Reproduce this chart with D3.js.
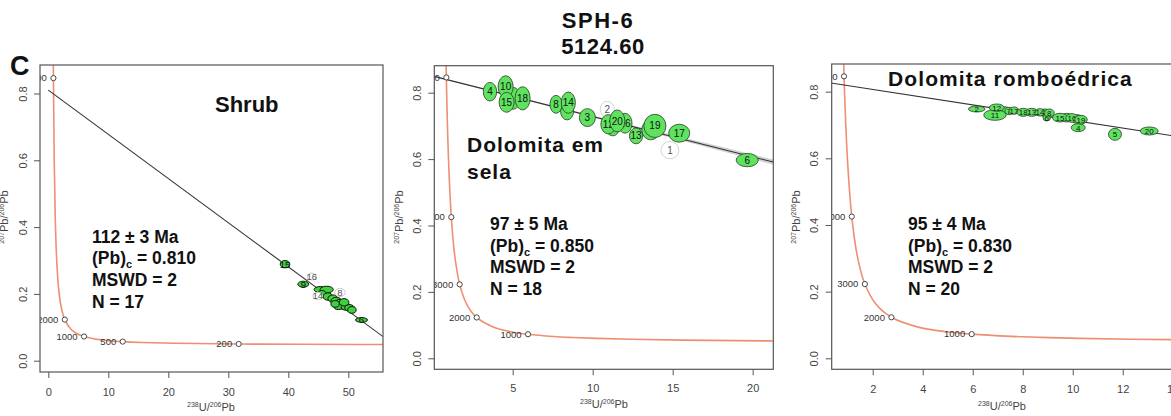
<!DOCTYPE html>
<html><head><meta charset="utf-8">
<script src="https://cdn.jsdelivr.net/npm/d3@7"></script>
<style>body{margin:0;background:#fff} svg{display:block;font-family:"Liberation Sans",Arial,sans-serif}</style>
</head><body><svg id="c" width="1171" height="416"></svg>
<script>
// ---- Concordia reference points (age in Ma, 238U/206Pb, 207Pb/206Pb) ----
const concAge = [5500,5000,4500,4000,3500,3000,2500,2000,1500,1200,1000,800,700,600,500,400,300,200,150,100];
const concX = [0.742,0.853,0.990,1.163,1.387,1.687,2.111,2.749,3.817,4.888,5.959,7.568,8.718,10.252,12.40,15.621,20.992,31.73,42.477,63.97];
const concY = [1.2075,0.846,0.597,0.4252,0.3059,0.2227,0.1643,0.1230,0.0936,0.0802,0.0725,0.0658,0.0628,0.0599,0.0572,0.0547,0.0524,0.0501,0.0491,0.0480];

// ---- Panel 1 : Shrub ----
const shrubMarkers = [5000,2000,1000,500,200];
const shrubXTicks = [0,10,20,30,40,50];
const shrubLabel = ["","","","","","6","","8","9","","","","","14","15","16","","","",""];
const shrubX  = [45.3,46.4,45.6,46.6,47.4,52.2,48.0,48.6,42.5,48.6,49.0,48.3,49.6,44.9,39.45,43.9,50.2,50.6,49.3,47.8];
const shrubY  = [0.213,0.213,0.200,0.192,0.186,0.122,0.178,0.204,0.229,0.172,0.166,0.164,0.162,0.194,0.289,0.252,0.158,0.152,0.175,0.170];
const shrubEX = [1.0,1.1,0.7,0.8,0.8,1.0,0.9,0.9,0.9,0.9,0.8,0.7,0.8,0.8,0.8,0.7,0.8,0.7,0.8,0.7];
const shrubEY = [0.009,0.010,0.010,0.011,0.011,0.007,0.012,0.012,0.009,0.012,0.012,0.011,0.011,0.011,0.011,0.010,0.010,0.010,0.011,0.010];
const shrubRejected = [8,14,16];
const shrubLineX = [0,55.8];
const shrubLineY = [0.810,0.072];

// ---- Panel 2 : Dolomita em sela ----
const selaMarkers = [5000,4000,3000,2000,1000];
const selaXTicks = [5,10,15,20];
const selaLabel = ["1","2","3","4","","6","","8","","10","","12","13","14","15","16","17","18","19","20"];
const selaX  = [14.83,10.91,9.67,3.58,5.04,19.66,8.40,7.71,13.63,4.56,11.25,10.98,12.71,8.48,4.62,12.02,15.41,5.62,13.89,11.54];
const selaY  = [0.627,0.750,0.725,0.803,0.783,0.597,0.745,0.765,0.688,0.818,0.698,0.705,0.670,0.770,0.771,0.708,0.678,0.783,0.700,0.715];
const selaEX = [0.56,0.44,0.50,0.42,0.44,0.69,0.41,0.38,0.56,0.47,0.44,0.47,0.41,0.44,0.47,0.44,0.66,0.47,0.69,0.47];
const selaEY = [0.026,0.024,0.027,0.028,0.033,0.020,0.027,0.027,0.030,0.033,0.028,0.029,0.024,0.032,0.030,0.030,0.027,0.035,0.035,0.033];
const selaRejected = [1,2];
const selaLineX = [0,21.3];
const selaLineY = [0.850,0.591];
const selaBandX = [0,5,10,15,21.3];
const selaBandW = [0.002,0.002,0.003,0.005,0.008];

// ---- Panel 3 : Dolomita romboédrica ----
const rombMarkers = [5000,4000,3000,2000,1000];
const rombXTicks = [2,4,6,8,10,12,14];
const rombLabel = ["","2","3","4","5","6","7","8","9","10","11","12","13","14","15","16","17","18","19","20"];
const rombX  = [7.30,6.16,8.89,10.22,11.69,8.96,7.45,9.06,9.76,10.17,6.89,6.96,8.36,8.69,9.49,9.97,7.65,8.02,10.33,13.06];
const rombY  = [0.745,0.748,0.737,0.692,0.672,0.722,0.742,0.736,0.722,0.718,0.730,0.752,0.738,0.738,0.722,0.721,0.743,0.738,0.716,0.682];
const rombEX = [0.15,0.33,0.20,0.28,0.26,0.15,0.16,0.20,0.25,0.25,0.45,0.30,0.25,0.20,0.30,0.25,0.20,0.25,0.25,0.36];
const rombEY = [0.010,0.009,0.011,0.012,0.018,0.010,0.011,0.012,0.013,0.013,0.016,0.011,0.012,0.011,0.013,0.013,0.011,0.012,0.013,0.012];
const rombRejected = [];
const rombLineX = [0,14.3];
const rombLineY = [0.830,0.664];

const yTicks = [0,0.2,0.4,0.6,0.8];
const statAge = ["112 \u00b1 3 Ma","97 \u00b1 5 Ma","95 \u00b1 4 Ma"];
const statPbc = ["0.810","0.850","0.830"];
const statMswd = ["2","2","2"];
const statN = ["17","18","20"];

const svg = d3.select("#c");
svg.append("rect").attr("width",1171).attr("height",416).attr("fill","#fff");

const panels = [
  {id:"p1", left:40, right:383, top:65, bottom:372, xDom:[-1.383,55.78], yDom:[-0.0338,0.8853],
   xTicks:shrubXTicks, markers:shrubMarkers, labels:shrubLabel, px:shrubX, py:shrubY, ex:shrubEX, ey:shrubEY,
   rej:shrubRejected, lx:shrubLineX, ly:shrubLineY, lblSize:9.5, xPad:10, yTitleX:8, xTitleX:211, xTitleY:411,
   statX:92, statY:242.7, k:0, dark:true},
  {id:"p2", left:434.3, right:773.3, top:65.7, bottom:369.3, xDom:[0.1,21.29], yDom:[-0.0331,0.8813],
   xTicks:selaXTicks, markers:selaMarkers, labels:selaLabel, px:selaX, py:selaY, ex:selaEX, ey:selaEY,
   rej:selaRejected, lx:selaLineX, ly:selaLineY, band:true, lblSize:10, xPad:9, yTitleX:403, xTitleX:604, xTitleY:408,
   statX:490, statY:230, k:1},
  {id:"p3", left:831.7, right:1185, top:64, bottom:369.3, xDom:[0.36,14.49], yDom:[-0.033,0.883],
   xTicks:rombXTicks, markers:rombMarkers, labels:rombLabel, px:rombX, py:rombY, ex:rombEX, ey:rombEY,
   rej:rombRejected, lx:rombLineX, ly:rombLineY, lblSize:8, xPad:9.5, yTitleX:800, xTitleX:1002, xTitleY:410,
   statX:908, statY:230, k:2}
];

const conc = concAge.map((a,i)=>({age:a, x:concX[i], y:concY[i]}));

panels.forEach(p=>{
  const xs = d3.scaleLinear().domain(p.xDom).range([p.left,p.right]);
  const ys = d3.scaleLinear().domain(p.yDom).range([p.bottom,p.top]);
  const g = svg.append("g");
  g.append("clipPath").attr("id","clip-"+p.id).append("rect")
    .attr("x",p.left).attr("y",p.top).attr("width",p.right-p.left).attr("height",p.bottom-p.top);
  const plot = g.append("g").attr("clip-path",`url(#clip-${p.id})`);

  if (p.band) {
    const slope = (p.ly[1]-p.ly[0])/(p.lx[1]-p.lx[0]);
    const bd = selaBandX.map((x,i)=>({x, y:p.ly[0]+slope*(x-p.lx[0]), w:selaBandW[i]}));
    plot.append("path").datum(bd)
      .attr("d", d3.area().x(d=>xs(d.x)).y0(d=>ys(d.y-d.w)).y1(d=>ys(d.y+d.w)).curve(d3.curveMonotoneX))
      .attr("fill","#bdbdbd").attr("opacity",0.7);
  }
  plot.append("path").datum(conc)
    .attr("d", d3.line().x(d=>xs(d.x)).y(d=>ys(d.y)).curve(d3.curveCatmullRom.alpha(0.5)))
    .attr("fill","none").attr("stroke","#ee8e72").attr("stroke-width",1.6);
  plot.append("line").attr("x1",xs(p.lx[0])).attr("y1",ys(p.ly[0])).attr("x2",xs(p.lx[1])).attr("y2",ys(p.ly[1]))
    .attr("stroke","#333").attr("stroke-width",1.1);
  const mk = conc.filter(d=>p.markers.includes(d.age));
  plot.selectAll(".mk").data(mk).enter().append("circle")
    .attr("cx",d=>xs(d.x)).attr("cy",d=>ys(d.y)).attr("r",2.6)
    .attr("fill","#fff").attr("stroke","#333").attr("stroke-width",0.9);
  plot.selectAll(".mkl").data(mk).enter().append("text")
    .attr("x",d=>xs(d.x)-6.5).attr("y",d=>ys(d.y)).attr("dy","0.35em")
    .attr("text-anchor","end").attr("font-size",9.5).attr("fill","#333").text(d=>d.age);
  p.px.forEach((x,i)=>{
    const id = i+1, y = p.py[i], rej = p.rej.includes(id);
    const cx = xs(x), cy = ys(y);
    plot.append("ellipse").attr("cx",cx).attr("cy",cy)
      .attr("rx", xs(x+p.ex[i])-cx).attr("ry", cy-ys(y+p.ey[i]))
      .attr("fill", rej ? "#fff" : (p.dark ? "#3fcf3f" : "#5ee35e"))
      .attr("stroke", rej ? "#c8c8c8" : (p.dark ? "#0d1a0d" : "#2c3a2c")).attr("stroke-width", p.dark ? 1 : 0.8);
    if (p.labels[i] !== "")
      plot.append("text").attr("x",cx).attr("y",cy).attr("dy","0.36em").attr("text-anchor","middle")
        .attr("font-size",p.lblSize).attr("fill", rej ? "#555" : "#111").text(p.labels[i]);
  });

  g.append("rect").attr("x",p.left).attr("y",p.top).attr("width",p.right-p.left).attr("height",p.bottom-p.top)
    .attr("fill","none").attr("stroke","#555").attr("stroke-width",1.2);

  const xa = g.append("g").attr("transform",`translate(0,${p.bottom})`)
    .call(d3.axisBottom(xs).tickValues(p.xTicks).tickSize(6).tickPadding(p.xPad).tickFormat(d3.format("d")));
  xa.select(".domain").remove();
  xa.selectAll("line").attr("stroke","#555");
  xa.selectAll("text").attr("font-size",11).attr("fill","#444").attr("font-family",null);
  const ya = g.append("g").attr("transform",`translate(${p.left},0)`)
    .call(d3.axisLeft(ys).tickValues(yTicks).tickSize(6).tickFormat(d3.format(".1f")));
  ya.select(".domain").remove();
  ya.selectAll("line").attr("stroke","#555");
  ya.selectAll("text").attr("x",null).attr("dy",null).attr("text-anchor","middle")
    .attr("dominant-baseline","central").attr("transform","translate(-17.5,0) rotate(-90)")
    .attr("font-size",11).attr("fill","#444").attr("font-family",null);

  const yt = g.append("text").attr("transform",`translate(${p.yTitleX},217) rotate(-90)`)
    .attr("text-anchor","middle").attr("font-size",11).attr("fill","#444");
  yt.append("tspan").attr("font-size",7).attr("dy",-4).text("207");
  yt.append("tspan").attr("dy",4).text("Pb/");
  yt.append("tspan").attr("font-size",7).attr("dy",-4).text("206");
  yt.append("tspan").attr("dy",4).text("Pb");
  const xt = g.append("text").attr("x",p.xTitleX).attr("y",p.xTitleY)
    .attr("text-anchor","middle").attr("font-size",11).attr("fill","#444");
  xt.append("tspan").attr("font-size",7).attr("dy",-4).text("238");
  xt.append("tspan").attr("dy",4).text("U/");
  xt.append("tspan").attr("font-size",7).attr("dy",-4).text("206");
  xt.append("tspan").attr("dy",4).text("Pb");

  const st = g.append("g").attr("font-size",17.5).attr("font-weight","bold").attr("fill","#111");
  const lh = 21.7;
  st.append("text").attr("x",p.statX).attr("y",p.statY).text(statAge[p.k]);
  const t2 = st.append("text").attr("x",p.statX).attr("y",p.statY+lh);
  t2.append("tspan").text("(Pb)");
  t2.append("tspan").attr("font-size",11).attr("dy",4).text("c");
  t2.append("tspan").attr("dy",-4).text(" = " + statPbc[p.k]);
  st.append("text").attr("x",p.statX).attr("y",p.statY+2*lh).text("MSWD = " + statMswd[p.k]);
  st.append("text").attr("x",p.statX).attr("y",p.statY+3*lh).text("N = " + statN[p.k]);
});

const T = (x,y,s,txt,anchor,ls)=>svg.append("text").attr("x",x).attr("y",y).attr("font-size",s)
  .attr("font-weight","bold").attr("fill","#111").attr("text-anchor",anchor||"start")
  .attr("letter-spacing",ls||0).text(txt);
T(10,75,27,"C");
T(598,28,22,"SPH-6","middle",1.5);
T(603,54,22,"5124.60","middle",0.6);
T(215,112,22,"Shrub");
T(467,152,21,"Dolomita em","start",1);
T(467,179,21,"sela","start",1);
T(888,86,21,"Dolomita romboédrica","start",1.1);
</script></body></html>
